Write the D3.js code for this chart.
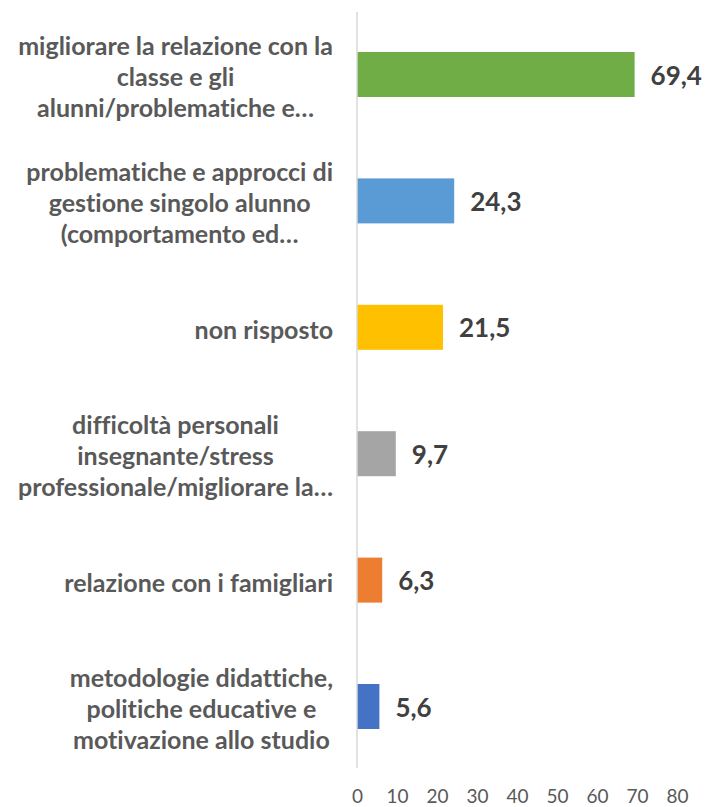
<!DOCTYPE html>
<html>
<head>
<meta charset="utf-8">
<script src="https://cdn.jsdelivr.net/npm/d3@7"></script>
<style>
  html, body { margin: 0; padding: 0; background: #fff; }
  svg { display: block; font-family: Lato, 'Open Sans', sans-serif; font-variant-ligatures: none; }
</style>
</head>
<body>
<div id="chart"></div>
<script>
// data, top to bottom
const categories = [
  'migliorare la relazione con la classe e gli alunni/problematiche e…',
  'problematiche e approcci di gestione singolo alunno (comportamento ed…',
  'non risposto',
  'difficoltà personali insegnante/stress professionale/migliorare la…',
  'relazione con i famigliari',
  'metodologie didattiche, politiche educative e motivazione allo studio'
];
// how the category text wraps on the chart
const categoryLines = [
  ['migliorare la relazione con la', 'classe e gli', 'alunni/problematiche e…'],
  ['problematiche e approcci di', 'gestione singolo alunno', '(comportamento ed…'],
  ['non risposto'],
  ['difficoltà personali', 'insegnante/stress', 'professionale/migliorare la…'],
  ['relazione con i famigliari'],
  ['metodologie didattiche,', 'politiche educative e', 'motivazione allo studio']
];
const values = [69.4, 24.3, 21.5, 9.7, 6.3, 5.6];
const xTicks = [0, 10, 20, 30, 40, 50, 60, 70, 80];

const palette = ['#70AD47', '#5B9BD5', '#FFC000', '#A5A5A5', '#ED7D31', '#4472C4'];

const width = 707, height = 807;
const margin = { top: 11.3, bottom: 37.3, left: 357, right: 30 };
const labelRight = 333, lineH = 31;

const svg = d3.select('#chart').append('svg')
  .attr('width', width).attr('height', height)
  .attr('viewBox', [0, 0, width, height]);

const x = d3.scaleLinear().domain([0, 80]).range([margin.left, 677]);
const y = d3.scaleBand().domain(categories)
  .range([margin.top, height - margin.bottom])
  .paddingInner(0.644).paddingOuter(0.322);

// bars
svg.append('g').selectAll('rect').data(values).join('rect')
  .attr('x', x(0))
  .attr('y', (d, i) => y(categories[i]))
  .attr('width', d => x(d) - x(0))
  .attr('height', y.bandwidth())
  .attr('fill', (d, i) => palette[i]);

// vertical axis line
svg.append('line')
  .attr('x1', x(0)).attr('x2', x(0))
  .attr('y1', 12).attr('y2', 768)
  .attr('stroke', '#d9d9d9').attr('stroke-width', 1.5);

// x axis labels only
const ax = svg.append('g')
  .attr('transform', `translate(0,${height - margin.bottom})`)
  .call(d3.axisBottom(x).tickValues(xTicks).tickSize(0).tickPadding(20)
    .tickFormat(d3.format('d')));
ax.select('.domain').remove();
ax.selectAll('text')
  .attr('font-family', 'Lato, sans-serif')
  .attr('font-size', 19)
  .attr('fill', '#595959');

// value labels
const fmt = v => d3.format('.1f')(v).replace('.', ',');
svg.append('g').selectAll('text').data(values).join('text')
  .attr('x', d => x(d) + 16)
  .attr('y', (d, i) => y(categories[i]) + y.bandwidth() / 2)
  .attr('dominant-baseline', 'central')
  .attr('font-size', 26)
  .attr('font-weight', 'bold')
  .attr('fill', '#404040')
  .text(fmt);

// category labels: block right-aligned, lines centred inside it
const cg = svg.append('g')
  .attr('font-size', 25)
  .attr('font-weight', 'bold')
  .attr('fill', '#595959');
categories.forEach((c, i) => {
  const lines = categoryLines[i];
  const cy = y(c) + y.bandwidth() / 2 + 1.5;
  const t = cg.append('text').attr('text-anchor', 'middle');
  const spans = lines.map((s, k) => t.append('tspan')
    .attr('y', cy + (k - (lines.length - 1) / 2) * lineH)
    .attr('dominant-baseline', 'central')
    .text(s));
  const w = d3.max(spans, s => s.node().getComputedTextLength());
  spans.forEach(s => s.attr('x', labelRight - w / 2));
});
</script>
</body>
</html>
